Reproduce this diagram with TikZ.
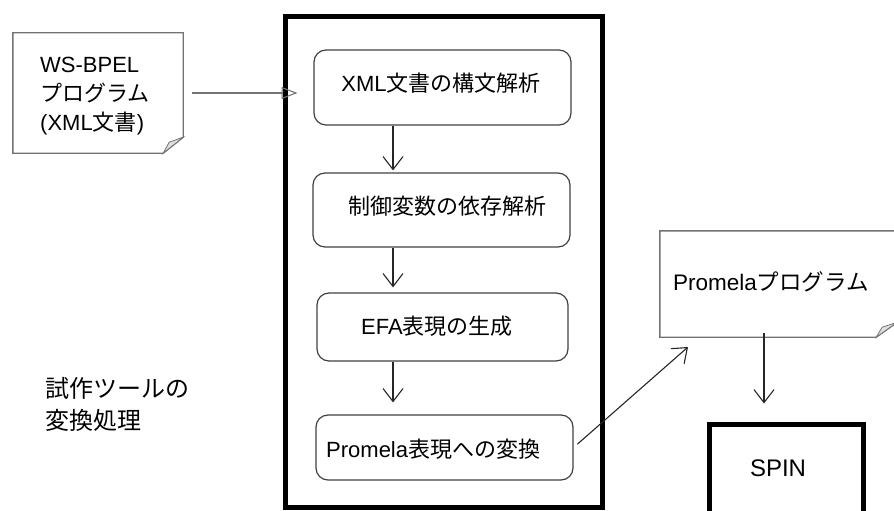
\documentclass[tikz,border=0pt]{standalone}
\usepackage{fontspec}
\setmainfont{Liberation Sans}
\newfontfamily\jp{Noto Sans CJK JP}
\usetikzlibrary{arrows.meta}
\begin{document}
\begin{tikzpicture}[x=1pt,y=-1pt,
  proc/.style={draw=black!75, line width=1.2pt, rounded corners=12pt, inner sep=0pt},
  txt/.style={inner sep=0pt, font=\fontsize{22}{26}\selectfont},
  frame/.style={draw=black, line width=5pt, inner sep=0pt},
  docline/.style={draw=black!55, line width=1.4pt, line join=miter},
  foldtri/.style={fill=black!12, draw=black!55, line width=0.8pt},
  flow/.style={draw=black!85, line width=1.1pt, -{Straight Barb[length=13pt,width=20pt,line width=1.1pt]}},
  feed/.style={draw=black!55, line width=1.4pt, -{Triangle[open,length=16pt,width=12pt,line width=1.1pt]}}
]
\useasboundingbox (0,0) rectangle (894,511);
\clip (0,0) rectangle (894,511);

% big frame
\node[frame, minimum width=317pt, minimum height=490pt] (big) at (443.5,262) {};

% process boxes
\node[proc, minimum width=257pt, minimum height=75pt] (b1) at (442.5,87.5) {};
\node[proc, minimum width=257pt, minimum height=74pt] (b2) at (441.5,210) {};
\node[proc, minimum width=251pt, minimum height=68pt] (b3) at (442.5,327) {};
\node[proc, minimum width=257pt, minimum height=65pt] (b4) at (444.5,447.5) {};

\node[txt] (t1) at (441,83) {XML{\jp 文書の構文解析}};
\node[txt] (t2) at (447,206) {{\jp 制御変数の依存解析}};
\node[txt] (t3) at (437,326) {EFA{\jp 表現の生成}};
\node[txt, anchor=west] (t4) at (326,449) {Promela{\jp 表現への変換}};

% flow arrows
\coordinate (ax) at (393,0);
\draw[flow, shorten >=2pt] (b1.south -| ax) -- (b2.north -| ax);
\draw[flow, shorten >=5pt] (b2.south -| ax) -- (b3.north -| ax);
\draw[flow, shorten >=12pt] (b3.south -| ax) -- (b4.north -| ax);

% WS-BPEL document
\node[inner sep=0pt, minimum width=170pt, minimum height=120pt] (ws) at (98,93) {};
\draw[docline] (ws.north west) -- (ws.north east) -- ([yshift=16pt]ws.south east)
  -- ([xshift=-20pt]ws.south east) -- (ws.south west) -- cycle;
\draw[foldtri] ([yshift=16pt]ws.south east) -- ([xshift=-14pt,yshift=11pt]ws.south east)
  -- ([xshift=-20pt]ws.south east) -- cycle;
\node[txt, anchor=west, align=left, font=\fontsize{22}{29}\selectfont] (wst) at (40,96)
  {WS-BPEL\\{\jp プログラム}\\(XML{\jp 文書})};
\coordinate (wsout) at (192,93);
\draw[feed] (wsout) -- (big.west |- wsout) -- ++(15,0);

% Promela document
\node[inner sep=0pt, minimum width=237pt, minimum height=106pt] (pd) at (778.5,284) {};
\draw[docline] (pd.north west) -- (pd.north east) -- ([yshift=15pt]pd.south east)
  -- ([xshift=-21pt]pd.south east) -- (pd.south west) -- cycle;
\draw[foldtri] ([yshift=15pt]pd.south east) -- ([xshift=-15pt,yshift=10pt]pd.south east)
  -- ([xshift=-21pt]pd.south east) -- cycle;
\node[txt, anchor=west, font=\fontsize{22.5}{26}\selectfont] (pdt) at (673,282)
  {Promela{\jp プログラム}};

% arrow from b4 to Promela doc
\coordinate (pdin) at (688,347);
\draw[flow, shorten <=5pt] (b4.east) -- (pdin);

% SPIN
\node[frame, minimum width=154pt, minimum height=110pt] (spin) at (786,479) {};
\node[txt, font=\fontsize{24}{28}\selectfont] (spint) at (778,468) {SPIN};
\coordinate (sx) at (764,0);
\draw[flow, shorten >=18pt] ([yshift=4pt]pd.south -| sx) -- (spin.north -| sx);

% left label
\node[txt, anchor=west, align=left, font=\fontsize{24}{32}\selectfont] (lbl) at (45,404)
  {{\jp 試作ツールの}\\{\jp 変換処理}};
\end{tikzpicture}
\end{document}
